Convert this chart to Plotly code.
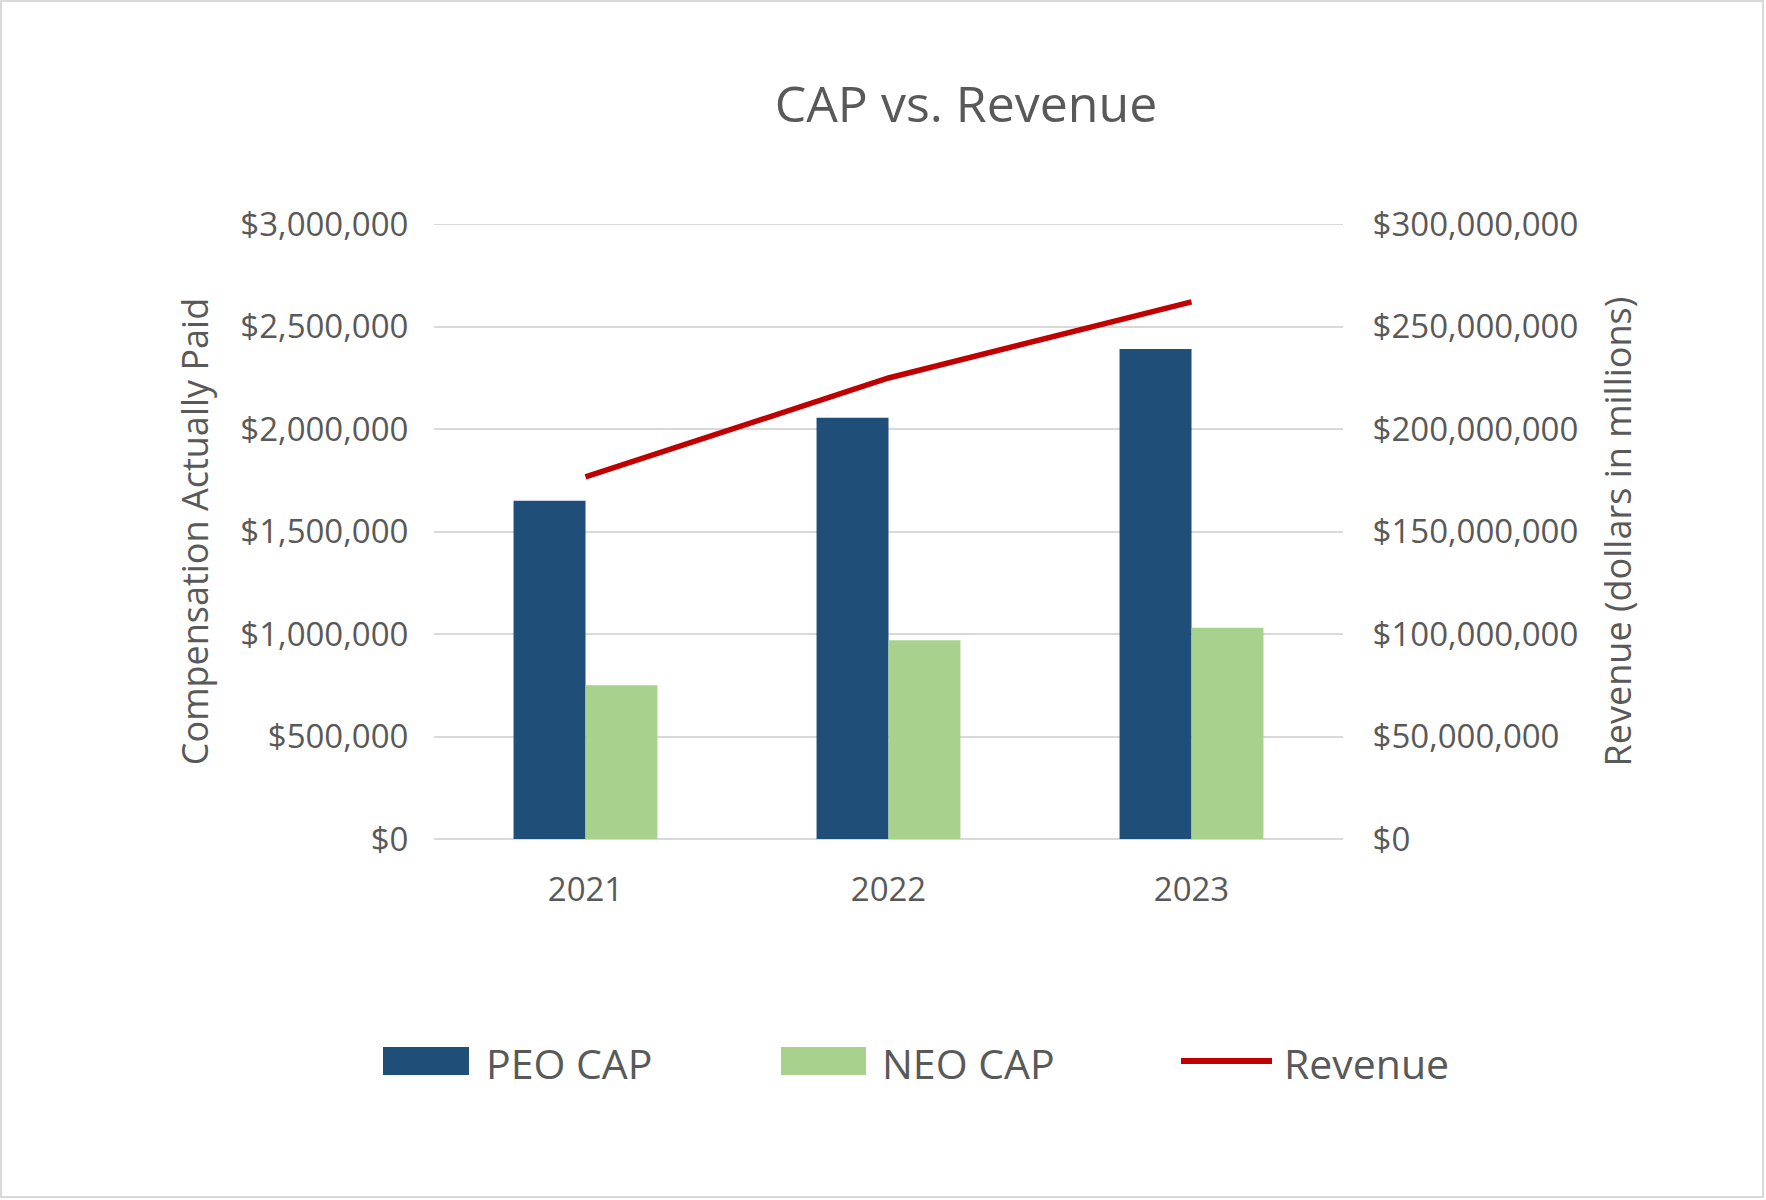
import plotly.graph_objects as go

# ---- data ----
years = ["2021", "2022", "2023"]
peo_cap = [1650000, 2055000, 2390000]
neo_cap = [750000, 970000, 1030000]
revenue = [176600000, 224900000, 262000000]

left_ticks = [0, 500000, 1000000, 1500000, 2000000, 2500000, 3000000]
right_ticks = [0, 50000000, 100000000, 150000000, 200000000, 250000000, 300000000]
left_labels = ["$" + format(v, ",") for v in left_ticks]
right_labels = ["$" + format(v, ",") for v in right_ticks]

# ---- styling ----
W, H = 1766, 1200
L, R, T, B = 434, 1343, 224, 839
PW, PH = R - L, B - T
GRAY = "#595959"
GRID = "#D9D9D9"
FONT = "Open Sans"
PEO_C = "#1F4E79"
NEO_C = "#A9D18E"
REV_C = "#C00000"
TICK_SIZE = 33
AXT_SIZE = 36


def px(x):
    return (x - L) / PW


def py(y):
    return (B - y) / PH


fig = go.Figure()
fig.add_trace(go.Bar(x=years, y=peo_cap, name="PEO CAP", marker_color=PEO_C,
                     marker_line_width=0, showlegend=False))
fig.add_trace(go.Bar(x=years, y=neo_cap, name="NEO CAP", marker_color=NEO_C,
                     marker_line_width=0, showlegend=False))
fig.add_trace(go.Scatter(x=years, y=revenue, name="Revenue", mode="lines",
                         line=dict(color=REV_C, width=5.5), yaxis="y2",
                         showlegend=False))

shapes = []
annotations = []

# outer border
shapes.append(dict(type="rect", xref="paper", yref="paper",
                   x0=px(1), x1=px(1763), y0=py(1197), y1=py(1),
                   line=dict(color=GRID, width=2), fillcolor="rgba(0,0,0,0)",
                   layer="below"))
# top gridline (plotly skips the gridline at the range edge)
shapes.append(dict(type="line", xref="paper", yref="y", x0=0, x1=1,
                   y0=left_ticks[-1], y1=left_ticks[-1],
                   line=dict(color=GRID, width=2), layer="below"))

# custom legend
leg_y0, leg_y1 = 1047, 1075
legend_items = [
    ("PEO CAP", "bar", PEO_C, 383, 469, 484),
    ("NEO CAP", "bar", NEO_C, 781, 866, 880),
    ("Revenue", "line", REV_C, 1181, 1272, 1282),
]
for name, kind, color, sx0, sx1, tx in legend_items:
    if kind == "bar":
        shapes.append(dict(type="rect", xref="paper", yref="paper",
                           x0=px(sx0), x1=px(sx1), y0=py(leg_y1), y1=py(leg_y0),
                           fillcolor=color, line=dict(width=0)))
    else:
        shapes.append(dict(type="line", xref="paper", yref="paper",
                           x0=px(sx0), x1=px(sx1), y0=py(1061), y1=py(1061),
                           line=dict(color=color, width=6)))
    annotations.append(dict(text=name, xref="paper", yref="paper",
                            x=px(tx), y=py(1063), xanchor="left", yanchor="middle",
                            showarrow=False, font=dict(family=FONT, size=41, color=GRAY)))

fig.update_layout(
    width=W, height=H,
    margin=dict(l=L, r=W - R, t=T, b=H - B, pad=0),
    paper_bgcolor="white", plot_bgcolor="white",
    font=dict(family=FONT, color=GRAY),
    title=dict(text="CAP vs. Revenue", xref="container", yref="container",
               x=966 / W, xanchor="center", y=1 - 104 / H, yanchor="middle",
               font=dict(family=FONT, size=50, color=GRAY)),
    barmode="group", bargap=0.525, bargroupgap=0,
    showlegend=False,
    xaxis=dict(type="category", showgrid=False, zeroline=False, showline=False,
               ticks="outside", ticklen=21, tickcolor="rgba(0,0,0,0)",
               tickfont=dict(family=FONT, size=TICK_SIZE, color=GRAY)),
    yaxis=dict(range=[0, 3000000], tickvals=left_ticks, ticktext=left_labels,
               showgrid=True, gridcolor=GRID, gridwidth=2,
               zeroline=True, zerolinecolor=GRID, zerolinewidth=2,
               showline=False, ticks="outside", ticklen=18,
               tickcolor="rgba(0,0,0,0)",
               tickfont=dict(family=FONT, size=TICK_SIZE, color=GRAY),
               title=dict(text="Compensation Actually Paid", standoff=20,
                          font=dict(family=FONT, size=AXT_SIZE, color=GRAY))),
    yaxis2=dict(range=[0, 300000000], tickvals=right_ticks, ticktext=right_labels,
                overlaying="y", side="right", showgrid=False,
                zeroline=False, showline=False, ticks="outside", ticklen=22,
                tickcolor="rgba(0,0,0,0)",
                tickfont=dict(family=FONT, size=TICK_SIZE, color=GRAY),
                title=dict(text="Revenue (dollars in millions)", standoff=28,
                           font=dict(family=FONT, size=AXT_SIZE, color=GRAY))),
    shapes=shapes,
    annotations=annotations,
)

fig.write_html("out.html")
